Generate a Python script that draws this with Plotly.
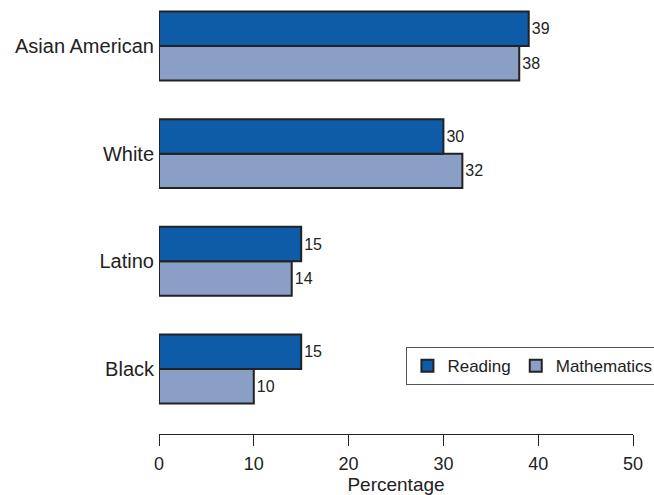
import plotly.graph_objects as go

categories = ["Black", "Latino", "White", "Asian American"]
reading = [15, 15, 30, 39]
mathematics = [10, 14, 32, 38]
x_ticks = [0, 10, 20, 30, 40, 50]

fig = go.Figure()
fig.add_trace(go.Bar(
    y=categories, x=mathematics, name="Mathematics", orientation="h",
    marker=dict(color="#8a9fc5", line=dict(color="#222222", width=2)),
    text=[str(v) for v in mathematics], textposition="outside",
    textfont=dict(size=16, color="#222222"), cliponaxis=False, legendrank=2,
))
fig.add_trace(go.Bar(
    y=categories, x=reading, name="Reading", orientation="h",
    marker=dict(color="#0e5ca8", line=dict(color="#222222", width=2)),
    text=[str(v) for v in reading], textposition="outside",
    textfont=dict(size=16, color="#222222"), cliponaxis=False, legendrank=1,
))

fig.update_layout(
    width=654, height=495,
    margin=dict(l=159, r=21, t=0, b=61, autoexpand=False),
    paper_bgcolor="white", plot_bgcolor="white",
    font=dict(family="Liberation Sans, Arial, sans-serif", size=18, color="#222222"),
    barmode="group", bargap=0.36, bargroupgap=0,
    showlegend=True,
    legend=dict(orientation="h", x=0.522, y=0.2, xanchor="left", yanchor="top",
                bordercolor="#555555", borderwidth=1, font=dict(size=17),
                itemwidth=30, tracegroupgap=0),
    xaxis=dict(range=[0, 50], tickvals=x_ticks, showgrid=False, zeroline=False,
               showline=True, linecolor="#222222", linewidth=1,
               ticks="outside", ticklen=11, tickcolor="#222222",
               tickfont=dict(size=18), ticklabelstandoff=2, automargin=False,
               title=dict(text="Percentage", font=dict(size=19), standoff=2),
               fixedrange=True),
    yaxis=dict(categoryorder="array", categoryarray=categories, range=[-0.604, 3.427],
               showgrid=False, zeroline=False, showline=False, ticks="",
               tickfont=dict(size=20), ticklabelstandoff=4, automargin=False,
               fixedrange=True),
)

fig.write_html("out.html")
